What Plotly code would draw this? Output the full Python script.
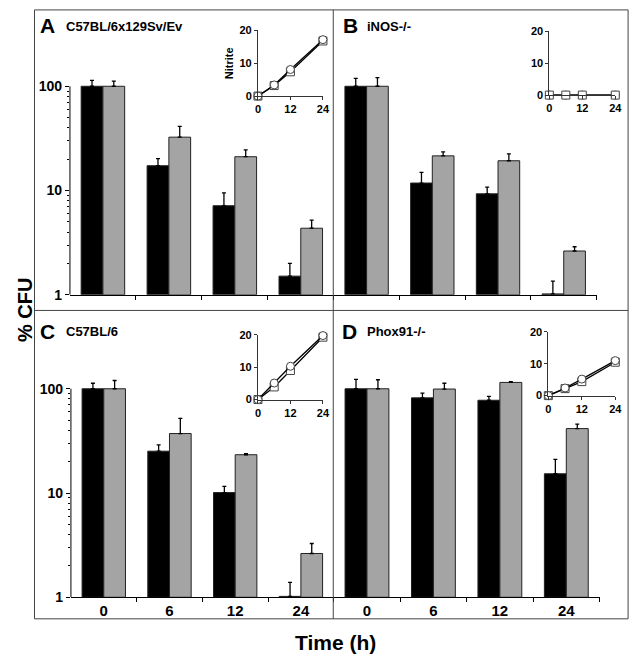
import plotly.graph_objects as go

# time points (h) and bar data (% CFU), black = first series, gray = second series
times = ["0", "6", "12", "24"]

a_black = [100, 17.3, 7.15, 1.51]
a_black_err = [114, 20.2, 9.5, 2.0]
a_gray = [100, 32.5, 21.1, 4.35]
a_gray_err = [112, 41.2, 24.5, 5.2]

b_black = [100, 11.8, 9.3, 1.02]
b_black_err = [119, 14.9, 10.8, 1.35]
b_gray = [100, 21.5, 19.3, 2.63]
b_gray_err = [121, 23.5, 22.5, 2.89]

c_black = [100, 25.2, 10.1, 1.02]
c_black_err = [113, 29, 11.6, 1.39]
c_gray = [100, 37.2, 23.3, 2.63]
c_gray_err = [120, 52, 23.8, 3.28]

d_black = [100, 81.8, 77.6, 15.3]
d_black_err = [123, 91, 84.7, 21]
d_gray = [100, 99.4, 115, 41.5]
d_gray_err = [122, 113, 117, 45.9]

# nitrite insets
nit_t = [0, 6, 12, 24]
a_circ = [0, 3.4, 8.1, 17.2]
a_sq = [0, 3.2, 7.4, 16.8]
b_circ = [0, 0, 0, 0]
b_sq = [0, 0, 0, 0]
c_circ = [0, 5.1, 10.3, 19.8]
c_sq = [0, 3.9, 9.0, 19.3]
d_circ = [0, 2.4, 5.2, 11.0]
d_sq = [0, 2.2, 4.4, 10.5]

W, H = 640, 665
FONT = "Liberation Sans, Arial, sans-serif"
DECADE = 106.5   # pixels per decade on the bar panels
YTOP = 2.2       # top of log range (log10 units)


def px(x):
    return x / W


def py(y):
    return 1 - y / H


fig = go.Figure()

panels = [
    ("", a_black, a_black_err, a_gray, a_gray_err),
    ("2", b_black, b_black_err, b_gray, b_gray_err),
    ("3", c_black, c_black_err, c_gray, c_gray_err),
    ("4", d_black, d_black_err, d_gray, d_gray_err),
]

for sfx, bk, bke, gr, gre in panels:
    for vals, errs, fill in [(bk, bke, "black"), (gr, gre, "#a4a4a4")]:
        fig.add_trace(go.Bar(
            x=[0, 1, 2, 3], y=[v - 1 for v in vals], base=1,
            marker=dict(color=fill, line=dict(color="#222", width=1)),
            error_y=dict(type="data", symmetric=False,
                         array=[e - v for e, v in zip(errs, vals)],
                         arrayminus=[0] * 4, color="black",
                         thickness=1.3, width=2),
            showlegend=False, hoverinfo="skip",
            xaxis="x" + sfx, yaxis="y" + sfx,
        ))

insets = [
    ("5", [(a_sq, "square"), (a_circ, "circle")]),
    ("6", [(b_circ, "circle"), (b_sq, "square")]),
    ("7", [(c_sq, "square"), (c_circ, "circle")]),
    ("8", [(d_sq, "square"), (d_circ, "circle")]),
]
for sfx, series in insets:
    for vals, sym in series:
        fig.add_trace(go.Scatter(
            x=nit_t, y=vals, mode="lines+markers",
            line=dict(color="black", width=1.3),
            marker=dict(symbol=sym, size=8, color="white",
                        line=dict(color="#444", width=1)),
            cliponaxis=False, showlegend=False,
            xaxis="x" + sfx, yaxis="y" + sfx,
        ))

ytickfont = dict(family=FONT, size=14, color="black", weight="bold")
xtickfont = dict(family=FONT, size=15, color="black", weight="bold")
minor_y = [2, 3, 4, 5, 6, 7, 8, 9, 20, 30, 40, 50, 60, 70, 80, 90]


def xbar(dom, anchor, labels):
    return dict(domain=[px(dom[0]), px(dom[1])], range=[-0.5, 3.5], anchor=anchor,
                tickvals=[0, 1, 2, 3], ticktext=times, ticks="",
                showticklabels=labels, tickfont=xtickfont,
                showline=True, linecolor="black", linewidth=1,
                showgrid=False, zeroline=False, fixedrange=True,
                minor=dict(tickvals=[0.5, 1.5, 2.5, 3.5], ticks="outside",
                           ticklen=4, tickcolor="black"))


def ybar(bottom, anchor, show):
    top = bottom - YTOP * DECADE
    d = dict(domain=[py(bottom), py(top)], type="log", range=[0, YTOP],
             anchor=anchor, showgrid=False, zeroline=False, fixedrange=True,
             showline=False)
    if show:
        d.update(tickvals=[1, 10, 100], ticktext=["1", "10", "100"],
                 ticks="outside", ticklen=4, tickcolor="black",
                 tickfont=ytickfont,
                 minor=dict(tickvals=minor_y, ticks="outside", ticklen=2,
                            tickcolor="black"))
    else:
        d.update(showticklabels=False, ticks="")
    return d


insfont = dict(family=FONT, size=11, color="black", weight="bold")


def xins(dom, anchor):
    return dict(domain=[px(dom[0]), px(dom[1])], range=[0, 24], anchor=anchor,
                tickvals=[0, 12, 24], ticks="outside", ticklen=3,
                tickcolor="#333", tickfont=insfont, showline=True,
                linecolor="#333", linewidth=1, showgrid=False,
                zeroline=False, fixedrange=True)


def yins(dom, anchor, title=""):
    return dict(domain=[py(dom[1]), py(dom[0])], range=[0, 20], anchor=anchor,
                tickvals=[0, 10, 20], ticks="outside", ticklen=3,
                tickcolor="#333", tickfont=insfont, showline=True,
                linecolor="#333", linewidth=1, showgrid=False,
                zeroline=False, fixedrange=True,
                title=dict(text=title, font=insfont, standoff=3))


fig.update_layout(
    width=W, height=H, margin=dict(l=0, r=0, t=0, b=0),
    paper_bgcolor="white", plot_bgcolor="rgba(0,0,0,0)",
    barmode="group", bargap=0.34, bargroupgap=0,
    xaxis=xbar((68, 336), "y", False), yaxis=ybar(295, "x", True),
    xaxis2=xbar((336, 603), "y2", False), yaxis2=ybar(295, "x2", False),
    xaxis3=xbar((69, 336), "y3", True), yaxis3=ybar(604, "x3", True),
    xaxis4=xbar((336, 606), "y4", True), yaxis4=ybar(604, "x4", False),
    xaxis5=xins((259, 325), "y5"), yaxis5=yins((25, 92), "x5", "Nitrite"),
    xaxis6=xins((555, 622), "y6"), yaxis6=yins((26, 91), "x6"),
    xaxis7=xins((259, 325), "y7"), yaxis7=yins((336, 402), "x7"),
    xaxis8=xins((554, 622), "y8"), yaxis8=yins((333, 398), "x8"),
)

# y-axis lines of panels A and C run from 1 to 100 only
for xr, yr in [("x domain", "y"), ("x3 domain", "y3")]:
    fig.add_shape(type="line", xref=xr, yref=yr, x0=0, x1=0, y0=1, y1=100,
                  line=dict(color="black", width=1))

# frame and dividers
frame = dict(color="#444", width=1)
fig.add_shape(type="rect", xref="paper", yref="paper", x0=px(32), x1=px(635),
              y0=py(626), y1=py(4), line=frame)
fig.add_shape(type="line", xref="paper", yref="paper", x0=px(335.5), x1=px(335.5),
              y0=py(626), y1=py(4), line=frame)
fig.add_shape(type="line", xref="paper", yref="paper", x0=px(32), x1=px(635),
              y0=py(311), y1=py(311), line=frame)

big = dict(family=FONT, size=21, color="black", weight="bold")
sub = dict(family=FONT, size=13, color="black", weight="bold")
labels = [
    ("A", 36, 20, "C57BL/6x129Sv/Ev", 62),
    ("B", 343, 20, "iNOS-/-", 368),
    ("C", 36, 332, "C57BL/6", 62),
    ("D", 342, 332, "Phox91-/-", 368),
]
for letter, lx, ly, name, nx in labels:
    fig.add_annotation(text=letter, x=px(lx), y=py(ly), xref="paper", yref="paper",
                       xanchor="left", yanchor="middle", showarrow=False, font=big)
    fig.add_annotation(text=name, x=px(nx), y=py(ly + 1), xref="paper", yref="paper",
                       xanchor="left", yanchor="middle", showarrow=False, font=sub)

fig.add_annotation(text="% CFU", x=px(23), y=py(311), xref="paper", yref="paper",
                   xanchor="center", yanchor="middle", textangle=-90,
                   showarrow=False,
                   font=dict(family=FONT, size=20, color="black", weight="bold"))
fig.add_annotation(text="Time (h)", x=px(338), y=py(650), xref="paper", yref="paper",
                   xanchor="center", yanchor="middle", showarrow=False,
                   font=dict(family=FONT, size=21, color="black", weight="bold"))

# the page's default body margin would shift the figure by 8 px
fig.write_html("out.html", config={"displayModeBar": False},
               post_script="document.body.style.margin = '0';")
